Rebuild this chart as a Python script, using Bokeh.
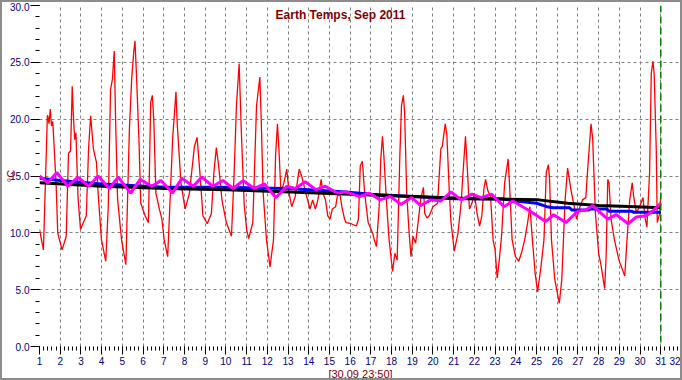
from bokeh.plotting import figure
from bokeh.models import (ColumnDataSource, SingleIntervalTicker, FixedTicker,
                          NumeralTickFormatter, Label, Span, Range1d)
from bokeh.embed import file_html
from bokeh.resources import INLINE

# ---------------- data ----------------
air_day = [1.00, 1.19, 1.38, 1.40, 1.46, 1.52, 1.58, 1.64, 1.80, 1.88, 2.09, 2.29, 2.40, 2.50,
           2.58, 2.63, 2.70, 2.76, 2.86, 2.98, 3.26, 3.37, 3.47, 3.60, 3.75, 3.83, 3.99, 4.20,
           4.32, 4.43, 4.52, 4.61, 4.67, 4.77, 4.96, 5.17, 5.34, 5.45, 5.55, 5.61, 5.68, 5.80,
           5.89, 6.10, 6.26, 6.37, 6.45, 6.52, 6.62, 6.80, 6.91, 7.02, 7.19, 7.43, 7.59, 7.65,
           7.83, 8.03, 8.24, 8.48, 8.61, 8.77, 8.89, 9.10, 9.30, 9.42, 9.54, 9.65, 9.81, 10.02,
           10.27, 10.40, 10.51, 10.64, 10.75, 10.88, 11.00, 11.10, 11.30, 11.48, 11.64, 11.70,
           11.80, 11.96, 12.13, 12.30, 12.40, 12.49, 12.56, 12.66, 12.80, 12.94, 13.05, 13.18,
           13.35, 13.54, 13.66, 13.86, 14.06, 14.19, 14.32, 14.44, 14.60, 14.68, 14.81, 14.92,
           15.03, 15.14, 15.30, 15.38, 15.50, 15.60, 15.73, 15.81, 16.05, 16.30, 16.40, 16.49,
           16.59, 16.70, 16.87, 17.10, 17.16, 17.27, 17.40, 17.48, 17.56, 17.62, 17.75, 17.88,
           18.05, 18.16, 18.27, 18.40, 18.48, 18.57, 18.63, 18.73, 18.85, 18.94, 19.03, 19.16,
           19.28, 19.41, 19.54, 19.60, 19.71, 19.82, 20.00, 20.22, 20.38, 20.45, 20.59, 20.67,
           20.79, 20.87, 21.03, 21.20, 21.36, 21.44, 21.57, 21.65, 21.76, 21.88, 22.00, 22.13,
           22.25, 22.36, 22.46, 22.54, 22.65, 22.78, 22.90, 23.00, 23.10, 23.20, 23.31, 23.46,
           23.63, 23.70, 23.82, 23.98, 24.14, 24.27, 24.43, 24.57, 24.68, 24.80, 24.93, 25.05,
           25.20, 25.36, 25.47, 25.57, 25.63, 25.72, 25.88, 26.10, 26.22, 26.38, 26.50, 26.66,
           26.82, 26.93, 27.06, 27.22, 27.38, 27.46, 27.63, 27.71, 27.84, 28.00, 28.12, 28.29,
           28.36, 28.44, 28.50, 28.60, 28.76, 28.98, 29.26, 29.37, 29.50, 29.62, 29.69, 29.82,
           29.98, 30.14, 30.25, 30.33, 30.46, 30.54, 30.62, 30.68, 30.78, 30.83, 30.96, 31.00]
air_temp = [10.3, 8.5, 20.3, 20.3, 19.6, 20.9, 19.4, 19.8, 14.4, 10.0, 8.5, 9.7, 17.0, 17.2,
            22.9, 20.5, 18.2, 18.8, 13.1, 10.3, 11.5, 17.4, 20.3, 17.4, 16.2, 13.5, 9.4, 7.5,
            12.3, 22.6, 23.5, 26.0, 20.3, 13.0, 9.4, 7.2, 19.1, 23.5, 25.9, 26.9, 24.0, 18.3,
            12.6, 11.5, 10.9, 21.5, 22.1, 19.9, 13.5, 12.0, 11.2, 9.4, 7.9, 18.3, 22.4, 19.6,
            14.4, 12.1, 13.5, 17.6, 18.4, 14.7, 11.5, 10.8, 11.7, 15.3, 17.5, 15.9, 12.9, 10.9,
            9.7, 15.3, 21.2, 24.9, 18.7, 12.6, 10.3, 9.5, 10.9, 21.2, 23.7, 20.3,
            13.5, 9.4, 7.0, 9.4, 16.8, 19.6, 17.4, 13.5, 14.4, 15.6, 13.5, 12.3,
            13.2, 15.6, 15.0, 13.5, 12.1, 12.9, 12.1, 12.9, 14.7, 13.5, 12.9, 11.5,
            11.2, 12.1, 12.3, 13.2, 13.5, 12.3, 11.2, 10.9, 10.8, 10.6, 11.2, 15.9,
            16.3, 13.5, 10.9, 9.9, 9.4, 8.8, 12.3, 16.5, 18.5, 17.0, 12.9, 9.4,
            6.6, 8.2, 7.6, 16.8, 21.2, 22.1, 20.6, 13.5, 9.9, 7.9, 9.7, 9.1,
            10.9, 13.0, 14.0, 11.7, 11.3, 11.5, 12.3, 12.6, 17.4, 17.6, 19.6, 18.6,
            13.5, 10.9, 8.4, 9.9, 12.6, 15.0, 18.5, 15.9, 12.1, 12.6, 13.5, 11.7,
            10.6, 11.5, 13.9, 14.7, 13.7, 13.2, 9.4, 8.5, 6.0, 7.6, 9.7, 14.4,
            16.5, 14.1, 9.4, 7.9, 7.5, 8.2, 9.4, 10.9, 12.3, 9.4, 6.5, 4.8,
            6.8, 9.4, 15.3, 16.0, 14.7, 9.4, 5.9, 3.8, 5.9, 12.9, 15.7, 13.8,
            12.3, 11.2, 12.1, 12.9, 13.1, 15.3, 19.6, 18.3, 11.8, 8.2, 7.1, 5.1,
            7.9, 14.7, 14.4, 11.2, 9.4, 7.6, 6.2, 9.4, 12.9, 14.4, 13.2, 11.8,
            12.3, 13.1, 11.2, 10.5, 15.3, 24.0, 25.1, 24.0, 17.4, 10.9, 11.8, 13.5]

soil1_day = [1.00, 1.40, 1.84, 2.37, 2.86, 3.38, 3.83, 4.37, 4.80, 5.40, 5.86, 6.42, 6.86,
             7.43, 7.87, 8.42, 8.84, 9.37, 9.86, 10.35, 10.83, 11.37, 11.86, 12.41, 12.94,
             13.35, 13.83, 14.35, 14.80, 15.38, 15.80, 16.46, 16.93, 17.43, 17.94, 18.45,
             18.97, 19.41, 19.89, 20.38, 20.87, 21.36, 21.88, 22.33, 22.82, 23.43, 23.85,
             24.70, 24.95, 25.45, 25.83, 26.42, 26.99, 27.38, 27.71, 28.43, 28.85, 29.43,
             29.82, 30.30, 30.65, 31.00]
soil1_temp = [15.0, 14.4, 15.3, 14.1, 14.9, 14.1, 15.0, 13.9, 14.9, 13.5, 14.7, 14.1, 14.6,
              13.5, 14.8, 14.1, 14.9, 14.1, 14.6, 13.9, 14.6, 13.9, 14.3, 13.1, 14.1,
              13.9, 14.5, 13.8, 14.1, 13.5, 13.6, 13.2, 13.5, 12.9, 13.2, 12.5,
              13.1, 12.4, 12.9, 12.8, 13.6, 12.9, 13.4, 13.1, 13.4, 12.3, 12.8,
              11.9, 11.6, 11.0, 11.6, 10.9, 11.9, 12.0, 12.4, 11.2, 11.6, 10.8,
              11.4, 11.5, 12.0, 12.6]

soil2_day = [1.00, 2.00, 4.00, 7.10, 10.00, 13.00, 15.80, 17.00, 19.00, 21.00, 23.30, 24.00,
             25.00, 25.50, 25.80, 26.60, 26.70, 27.50, 27.60, 28.40, 28.50, 29.60, 29.70, 31.00]
soil2_temp = [14.8, 14.6, 14.3, 14.0, 14.0, 13.9, 13.6, 13.4, 13.2, 13.0, 13.0, 12.8,
              12.6, 12.3, 12.2, 12.2, 12.0, 12.0, 12.1, 12.1, 11.9, 11.9, 11.8, 11.8]

soil3_day = [1.00, 4.00, 7.10, 10.00, 13.10, 16.00, 19.05, 22.00, 25.10, 26.50, 28.00, 29.80, 31.00]
soil3_temp = [14.4, 14.1, 13.9, 13.8, 13.6, 13.4, 13.2, 13.0, 12.9, 12.6, 12.4, 12.3, 12.2]

now_day = 31.0
x_start, x_end = 1, 32
y_start, y_end = 0, 30
title_text = "Earth Temps, Sep 2011"
y_label = "°C"
x_label = "[30.09 23:50]"

W, H = 682, 380

# ---------------- figure ----------------
p = figure(width=W, height=H, output_backend="svg", toolbar_location=None, title=None,
           x_range=Range1d(x_start, x_end), y_range=Range1d(y_start, y_end),
           min_border_left=37, min_border_right=3, min_border_top=3, min_border_bottom=33,
           background_fill_color="white", border_fill_color="white")
p.outline_line_color = None
p.styles = {"border": "2px solid #8c8c8c"}

p.xaxis.ticker = SingleIntervalTicker(interval=1, num_minor_ticks=5)
p.yaxis.ticker = SingleIntervalTicker(interval=5, num_minor_ticks=5)
p.yaxis.formatter = NumeralTickFormatter(format="0.0")
for ax in (p.xaxis[0], p.yaxis[0]):
    ax.axis_line_color = None
    ax.major_tick_in = 0
    ax.minor_tick_in = 0
    ax.minor_tick_out = 4
    ax.major_tick_line_color = "black"
    ax.minor_tick_line_color = "black"
    ax.major_label_text_color = "#000080"
    ax.major_label_text_font = "Liberation Sans"
    ax.major_label_text_font_size = "10px"
    ax.axis_label_text_color = "#800000"
    ax.axis_label_text_font = "Liberation Sans"
    ax.axis_label_text_font_size = "11px"
    ax.axis_label_text_font_style = "normal"
p.xaxis.axis_label = x_label
p.xaxis.axis_label_standoff = 0
p.yaxis.axis_label = y_label
p.yaxis.axis_label_standoff = -10
p.xaxis.major_tick_out = 8
p.xaxis.major_label_standoff = 2
p.yaxis.major_tick_out = 9
p.yaxis.major_label_standoff = 1

p.xgrid.ticker = FixedTicker(ticks=list(range(x_start + 1, x_end)))
p.ygrid.ticker = FixedTicker(ticks=list(range(y_start + 5, y_end, 5)))
for g in (p.xgrid[0], p.ygrid[0]):
    g.grid_line_color = "#808080"
    g.grid_line_dash = "3 3"
    g.grid_line_width = 1

src_air = ColumnDataSource(dict(x=air_day, y=air_temp))
src_s1 = ColumnDataSource(dict(x=soil1_day, y=soil1_temp))
src_s2 = ColumnDataSource(dict(x=soil2_day, y=soil2_temp))
src_s3 = ColumnDataSource(dict(x=soil3_day, y=soil3_temp))

p.line("x", "y", source=src_air, line_color="#ff0000", line_width=1.3)
p.line("x", "y", source=src_s2, line_color="#0000ff", line_width=3)
p.line("x", "y", source=src_s3, line_color="#000000", line_width=3)
p.line("x", "y", source=src_s1, line_color="#ff00ff", line_width=3)

p.add_layout(Span(location=now_day, dimension="height", line_color="#008000",
                  line_dash="7 4", line_width=1.5))

p.add_layout(Label(x=301, y=332, x_units="screen", y_units="screen", text=title_text,
                   text_align="center", text_baseline="middle", text_color="#800000",
                   text_font="Liberation Sans", text_font_style="bold", text_font_size="12px"))

open("out.html", "w").write(file_html(p, INLINE))
